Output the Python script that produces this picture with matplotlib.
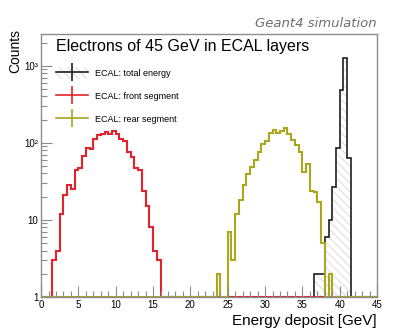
"""
Energy deposit of 45 GeV electrons in the ECAL layers (Geant4 simulation).
Step histograms on a log scale, ROOT-like styling.
"""

import numpy as np
import matplotlib
matplotlib.use('Agg')
import matplotlib.pyplot as plt
import matplotlib.patches as mpatches
from matplotlib.lines import Line2D
from matplotlib.ticker import FixedLocator, MultipleLocator, NullFormatter

# ── binning ────────────────────────────────────────────────────────────────
BIN_WIDTH = 0.5
bin_edges = np.arange(0.0, 45.0 + BIN_WIDTH, BIN_WIDTH)

# ── counts per bin (first bin low edge + values) ─
total_start = 36.5
total_counts = [2, 2, 2, 6, 10, 27, 85, 484, 1247, 63]

front_start = 1.5
front_counts = [3, 4, 12, 21, 28, 25, 44, 47, 68, 85, 83, 111, 126, 129, 137,
                132, 142, 129, 112, 107, 77, 66, 47, 45, 24, 15, 8, 4, 3]

rear_start = 23.5
rear_counts = [2, 0, 0, 7, 3, 12, 18, 28, 39, 49, 60, 75, 97, 104, 133, 147,
               136, 144, 155, 130, 109, 94, 75, 42, 53, 24, 23, 17, 5, 0, 2]

labels = ['ECAL: total energy', 'ECAL: front segment', 'ECAL: rear segment']
x_ticks = [0, 5, 10, 15, 20, 25, 30, 35, 40, 45]
y_ticks = [1, 10, 100, 1000]
y_tick_labels = ['1', '10', '10²', '10³']

# colours
COLOR_TOTAL = '#1e1e1e'
COLOR_FRONT = '#e3222b'
COLOR_REAR  = '#aaa61e'
COLOR_AXIS  = '#8c8c8c'
COLOR_HATCH = '#d6d6d6'

Y_MIN, Y_MAX = 1, 2600

plt.rcParams['font.family'] = ['Liberation Sans', 'DejaVu Sans']
plt.rcParams['hatch.linewidth'] = 0.6


def full_hist(start, counts):
    """Place a short run of counts into the full 90-bin array."""
    h = np.zeros(len(bin_edges) - 1)
    i0 = int(round(start / BIN_WIDTH))
    h[i0:i0 + len(counts)] = counts
    # empty bins sit on the axis floor, like ROOT draws them in log-y
    return np.clip(h, Y_MIN, None)


h_total = full_hist(total_start, total_counts)
h_front = full_hist(front_start, front_counts)
h_rear  = full_hist(rear_start, rear_counts)

fig = plt.figure(figsize=(4.19, 3.31), dpi=100)
ax = fig.add_axes([0.098, 0.103, 0.802, 0.795])

# total energy: hatched fill + outline
ax.stairs(h_total, bin_edges, baseline=Y_MIN, fill=True, facecolor='none',
          edgecolor=COLOR_HATCH, hatch='\\\\\\\\', linewidth=0)
ax.stairs(h_total, bin_edges, baseline=None, color=COLOR_TOTAL, linewidth=1.2)
ax.stairs(h_front, bin_edges, baseline=None, color=COLOR_FRONT, linewidth=1.5)
ax.stairs(h_rear, bin_edges, baseline=None, color=COLOR_REAR, linewidth=1.5)

ax.set_yscale('log')
ax.set_xlim(0, 45)
ax.set_ylim(Y_MIN, Y_MAX)

ax.xaxis.set_major_locator(FixedLocator(x_ticks))
ax.xaxis.set_minor_locator(MultipleLocator(1))
ax.set_yticks(y_ticks)
ax.set_yticklabels(y_tick_labels)
ax.yaxis.set_minor_formatter(NullFormatter())

ax.tick_params(which='both', direction='in', top=False, right=False,
               colors=COLOR_AXIS, labelcolor='black', labelsize=7, pad=2)
ax.tick_params(which='major', length=8, width=0.8)
ax.tick_params(which='minor', length=4, width=0.8)
for sp in ax.spines.values():
    sp.set_color(COLOR_AXIS)
    sp.set_linewidth(1.0)

ax.set_xlabel('Energy deposit [GeV]', fontsize=11, loc='right', labelpad=3)
fig.text(0.036, 0.912, 'Counts', rotation=90, fontsize=10, ha='center', va='top')

ax.text(0.045, 0.95, 'Electrons of 45 GeV in ECAL layers', transform=ax.transAxes,
        fontsize=11.5, va='center', ha='left')
fig.text(0.9, 0.93, 'Geant4 simulation', fontsize=9.5, style='italic',
         color='#6e6e6e', ha='right', va='center', family='DejaVu Sans')

# legend with ROOT-like error-bar crosses
hatch_box = mpatches.Patch(facecolor='none', edgecolor=COLOR_HATCH,
                           hatch='\\\\\\\\', linewidth=0)
handles = [
    (hatch_box, Line2D([], [], color=COLOR_TOTAL, lw=1.2, marker='|',
                       markersize=13, markeredgewidth=1.2)),
    Line2D([], [], color=COLOR_FRONT, lw=1.2, marker='|', markersize=13,
           markeredgewidth=1.2),
    Line2D([], [], color=COLOR_REAR, lw=1.2, marker='|', markersize=13,
           markeredgewidth=1.2),
]
ax.legend(handles, labels, loc='upper left', bbox_to_anchor=(0.035, 0.886),
          frameon=False, fontsize=6.5, numpoints=1, handlelength=3.5,
          handleheight=1.6, handletextpad=0.8, labelspacing=1.25,
          borderaxespad=0)

fig.savefig('out.png', dpi=100)
